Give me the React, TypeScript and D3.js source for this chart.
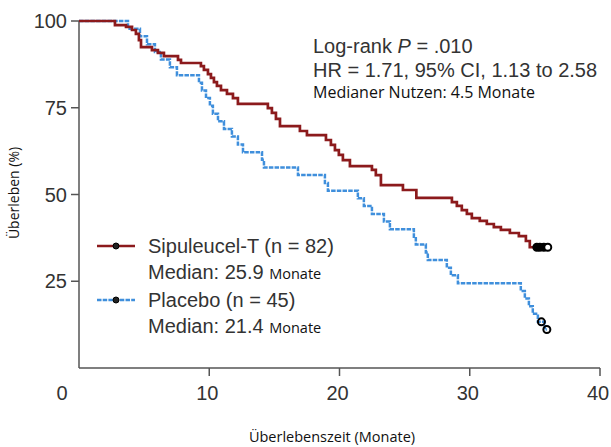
import React, { useEffect, useRef } from "react";
import * as d3 from "d3";

const W = 611;
const H = 447;

// Sipuleucel-T (n = 82): step times (months) and survival (%) after each step
const sipTimes = [0, 2.76, 3.61, 4.07, 4.37, 4.6, 4.76, 5.6, 6.06, 6.52, 7.6, 7.83, 9.36, 9.59, 9.9, 10.13, 10.36, 10.59, 10.9, 11.36, 11.82, 12.2, 14.5, 14.81, 15.12, 15.43, 16.96, 17.5, 18.96, 19.34, 19.65, 19.95, 20.26, 20.8, 22.49, 22.79, 23.18, 24.87, 25.9, 28.63, 29.01, 29.39, 29.78, 30.16, 30.77, 31.31, 31.85, 32.39, 33.08, 33.77, 34.31, 34.61];
const sipSurv = [100, 98.8, 98.3, 97.4, 96.3, 94.5, 92.5, 91.6, 90.8, 89.9, 88.8, 87.9, 87.0, 85.9, 84.7, 83.6, 82.4, 81.3, 80.1, 79.0, 77.8, 76.1, 74.9, 73.5, 71.8, 69.7, 68.3, 67.1, 65.7, 64.3, 62.8, 61.4, 59.9, 58.2, 57.1, 55.6, 52.7, 51.3, 49.0, 47.8, 46.7, 45.5, 44.4, 43.2, 42.4, 41.5, 40.6, 39.8, 38.9, 38.0, 36.6, 34.8];
const sipEnd = 35.99;
const sipCensor = [35.15, 35.38, 35.69, 35.99];

// Placebo (n = 45)
const plaTimes = [0, 3.76, 4.68, 5.22, 5.83, 6.29, 6.98, 7.52, 9.21, 9.44, 9.75, 10.05, 10.28, 10.67, 11.13, 11.74, 12.2, 12.59, 14.05, 14.2, 16.81, 18.88, 19.11, 21.41, 21.87, 22.49, 23.41, 23.87, 25.71, 25.86, 26.63, 26.78, 28.24, 28.55, 29.09, 33.92, 34.23, 34.54, 34.84, 35.23, 35.76];
const plaSurv = [100, 97.8, 95.6, 93.3, 91.1, 88.9, 86.7, 84.4, 82.2, 80.0, 77.8, 75.6, 73.3, 71.1, 68.9, 66.7, 64.4, 62.2, 60.0, 57.8, 55.6, 53.3, 51.1, 48.9, 46.7, 44.4, 42.2, 40.0, 37.8, 35.6, 33.3, 31.1, 28.9, 26.7, 24.4, 22.2, 20.0, 17.8, 15.6, 13.3, 11.1];
const plaEnd = 35.92;
const plaCensorTimes = [35.5, 35.92];
const plaCensorSurv = [13.3, 11.1];

const xTicks = [10, 20, 30, 40];
const yTicks = [25, 50, 75, 100];

const RED = "#8c1a1c";
const BLUE = "#3f8fdc";
const HELV = "'Liberation Sans', Arial, sans-serif";
const MYR = "'Open Sans', 'Noto Sans', sans-serif";

export default function App() {
  const ref = useRef<SVGSVGElement>(null);

  useEffect(() => {
    const svg = d3.select(ref.current);
    svg.selectAll("*").remove();

    const x = d3.scaleLinear().domain([0, 40]).range([79, 600]);
    const y = d3.scaleLinear().domain([0, 100]).range([368, 21]);

    const g = svg.append("g");

    // axes
    g.append("line").attr("x1", x(0)).attr("x2", x(40)).attr("y1", y(0)).attr("y2", y(0))
      .attr("stroke", "#555").attr("stroke-width", 1.5);
    g.append("line").attr("x1", x(0)).attr("x2", x(0)).attr("y1", y(0)).attr("y2", y(100))
      .attr("stroke", "#555").attr("stroke-width", 1.5);

    g.selectAll(".xt").data(xTicks).enter().append("line")
      .attr("x1", (d) => x(d)).attr("x2", (d) => x(d))
      .attr("y1", y(0)).attr("y2", y(0) + 8)
      .attr("stroke", "#555").attr("stroke-width", 1.5);
    g.selectAll(".xl").data([0, ...xTicks]).enter().append("text")
      .attr("x", (d) => (d === 0 ? x(0) - 17 : x(d) - 2))
      .attr("y", y(0) + 32)
      .attr("text-anchor", "middle")
      .style("font-family", HELV).style("font-size", "20px").style("fill", "#333")
      .text((d) => d);

    g.selectAll(".yt").data(yTicks).enter().append("line")
      .attr("x1", x(0) - 8).attr("x2", x(0))
      .attr("y1", (d) => y(d)).attr("y2", (d) => y(d))
      .attr("stroke", "#555").attr("stroke-width", 1.5);
    g.selectAll(".yl").data(yTicks).enter().append("text")
      .attr("x", x(0) - 12).attr("y", (d) => y(d))
      .attr("dy", ".35em")
      .attr("text-anchor", "end")
      .style("font-family", HELV).style("font-size", "20px").style("fill", "#333")
      .text((d) => d);

    g.append("text").attr("x", 332).attr("y", 442).attr("text-anchor", "middle")
      .style("font-family", MYR).style("font-size", "14.5px").style("fill", "#111")
      .text("Überlebenszeit (Monate)");
    g.append("text").attr("transform", "translate(19,193) rotate(-90)").attr("text-anchor", "middle")
      .style("font-family", MYR).style("font-size", "14px").style("fill", "#111")
      .text("Überleben (%)");

    // curves
    const line = d3.line<[number, number]>()
      .x((d) => x(d[0])).y((d) => y(d[1]))
      .curve(d3.curveStepAfter);

    const sipPts: [number, number][] = sipTimes.map((t, i) => [t, sipSurv[i]]);
    sipPts.push([sipEnd, sipSurv[sipSurv.length - 1]]);
    const plaPts: [number, number][] = plaTimes.map((t, i) => [t, plaSurv[i]]);
    plaPts.push([plaEnd, plaSurv[plaSurv.length - 1]]);

    g.append("path").attr("d", line(plaPts)).attr("fill", "none")
      .attr("stroke", BLUE).attr("stroke-width", 2.5).attr("stroke-dasharray", "4.5,1.2");
    g.append("path").attr("d", line(sipPts)).attr("fill", "none")
      .attr("stroke", RED).attr("stroke-width", 2.7);

    // censor marks
    g.selectAll(".sc").data(sipCensor).enter().append("circle")
      .attr("cx", (d) => x(d)).attr("cy", y(sipSurv[sipSurv.length - 1]))
      .attr("r", 3.5)
      .attr("fill", (d, i) => (i < sipCensor.length - 1 ? "#000" : "#fff"))
      .attr("stroke", "#000").attr("stroke-width", 2);
    g.selectAll(".pc").data(plaCensorTimes).enter().append("circle")
      .attr("cx", (d) => x(d)).attr("cy", (d, i) => y(plaCensorSurv[i]))
      .attr("r", 3.5).attr("fill", "none").attr("stroke", "#000").attr("stroke-width", 2);

    // legend
    const leg = [
      { label: "Sipuleucel-T (n = 82)", median: "25.9", color: RED, dash: null, y: 246 },
      { label: "Placebo (n = 45)", median: "21.4", color: BLUE, dash: "4.5,1.2", y: 300 },
    ];
    leg.forEach((l) => {
      g.append("line").attr("x1", 97).attr("x2", 135).attr("y1", l.y).attr("y2", l.y)
        .attr("stroke", l.color).attr("stroke-width", 2.5)
        .attr("stroke-dasharray", l.dash);
      g.append("circle").attr("cx", 116).attr("cy", l.y).attr("r", 3)
        .attr("fill", "#222").attr("stroke", "#000").attr("stroke-width", 1);
      g.append("text").attr("x", 148).attr("y", l.y).attr("dy", ".35em")
        .style("font-family", HELV).style("font-size", "20px").style("fill", "#333")
        .text(l.label);
      const t = g.append("text").attr("x", 148).attr("y", l.y + 26).attr("dy", ".35em")
        .style("font-family", HELV).style("font-size", "20px").style("fill", "#333");
      t.append("tspan").text(`Median: ${l.median} `);
      t.append("tspan").style("font-family", MYR).style("font-size", "14.5px").style("fill", "#111").text("Monate");
    });

    // annotation
    const a1 = g.append("text").attr("x", 313).attr("y", 46).attr("dy", ".35em")
      .style("font-family", HELV).style("font-size", "20px").style("fill", "#333");
    a1.append("tspan").text("Log-rank ");
    a1.append("tspan").style("font-style", "italic").text("P");
    a1.append("tspan").text(" = .010");
    g.append("text").attr("x", 313).attr("y", 70).attr("dy", ".35em")
      .style("font-family", HELV).style("font-size", "20px").style("fill", "#333")
      .text("HR = 1.71, 95% CI, 1.13 to 2.58");
    g.append("text").attr("x", 313).attr("y", 92).attr("dy", ".35em")
      .style("font-family", MYR).style("font-size", "16px").style("fill", "#111")
      .text("Medianer Nutzen: 4.5 Monate");
  }, []);

  return (
    <svg ref={ref} width={W} height={H}
      style={{ position: "absolute", left: 0, top: 0, background: "#fff" }} />
  );
}
